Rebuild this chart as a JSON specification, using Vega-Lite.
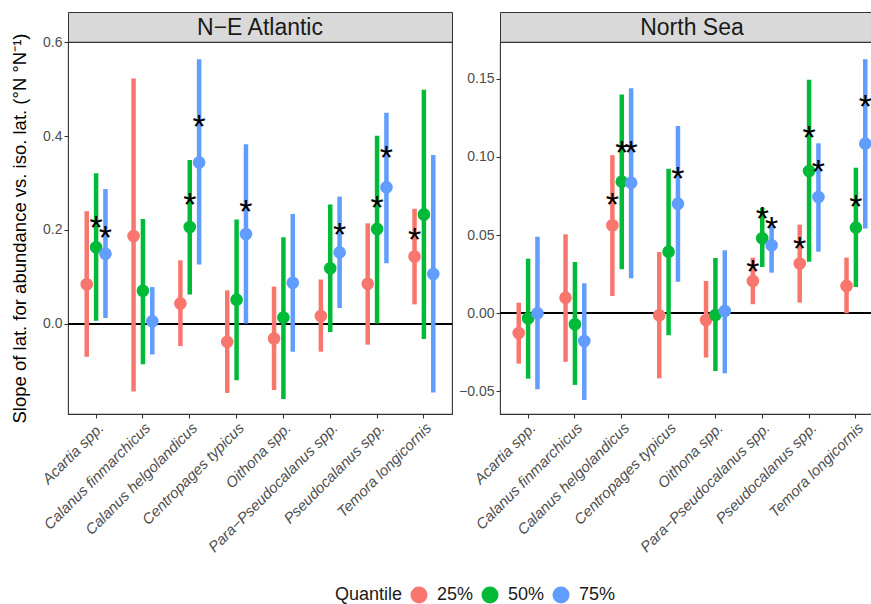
{
  "$schema": "https://vega.github.io/schema/vega-lite/v6.json",
  "padding": {"left": 9, "top": 11, "right": 0, "bottom": 70},
  "autosize": {"type": "pad"},
  "background": "white",
  "datasets": {
    "strips": [{"region": "N−E Atlantic"}, {"region": "North Sea"}],
    "pts": [
      {"region": "N−E Atlantic", "species": "Acartia spp.", "q": "25%", "est": 0.084, "lo": -0.071, "hi": 0.240, "star_y": null},
      {"region": "N−E Atlantic", "species": "Acartia spp.", "q": "50%", "est": 0.163, "lo": 0.006, "hi": 0.321, "star_y": 0.214},
      {"region": "N−E Atlantic", "species": "Acartia spp.", "q": "75%", "est": 0.149, "lo": 0.012, "hi": 0.287, "star_y": 0.193},
      {"region": "N−E Atlantic", "species": "Calanus finmarchicus", "q": "25%", "est": 0.187, "lo": -0.145, "hi": 0.523, "star_y": null},
      {"region": "N−E Atlantic", "species": "Calanus finmarchicus", "q": "50%", "est": 0.070, "lo": -0.087, "hi": 0.223, "star_y": null},
      {"region": "N−E Atlantic", "species": "Calanus finmarchicus", "q": "75%", "est": 0.005, "lo": -0.066, "hi": 0.078, "star_y": null},
      {"region": "N−E Atlantic", "species": "Calanus helgolandicus", "q": "25%", "est": 0.043, "lo": -0.048, "hi": 0.135, "star_y": null},
      {"region": "N−E Atlantic", "species": "Calanus helgolandicus", "q": "50%", "est": 0.206, "lo": 0.062, "hi": 0.349, "star_y": 0.262},
      {"region": "N−E Atlantic", "species": "Calanus helgolandicus", "q": "75%", "est": 0.344, "lo": 0.126, "hi": 0.564, "star_y": 0.429},
      {"region": "N−E Atlantic", "species": "Centropages typicus", "q": "25%", "est": -0.039, "lo": -0.148, "hi": 0.071, "star_y": null},
      {"region": "N−E Atlantic", "species": "Centropages typicus", "q": "50%", "est": 0.051, "lo": -0.121, "hi": 0.222, "star_y": null},
      {"region": "N−E Atlantic", "species": "Centropages typicus", "q": "75%", "est": 0.191, "lo": 0.0, "hi": 0.383, "star_y": 0.248},
      {"region": "N−E Atlantic", "species": "Oithona spp.", "q": "25%", "est": -0.032, "lo": -0.142, "hi": 0.079, "star_y": null},
      {"region": "N−E Atlantic", "species": "Oithona spp.", "q": "50%", "est": 0.013, "lo": -0.161, "hi": 0.184, "star_y": null},
      {"region": "N−E Atlantic", "species": "Oithona spp.", "q": "75%", "est": 0.087, "lo": -0.060, "hi": 0.234, "star_y": null},
      {"region": "N−E Atlantic", "species": "Para−Pseudocalanus spp.", "q": "25%", "est": 0.016, "lo": -0.060, "hi": 0.094, "star_y": null},
      {"region": "N−E Atlantic", "species": "Para−Pseudocalanus spp.", "q": "50%", "est": 0.118, "lo": -0.018, "hi": 0.254, "star_y": null},
      {"region": "N−E Atlantic", "species": "Para−Pseudocalanus spp.", "q": "75%", "est": 0.152, "lo": 0.033, "hi": 0.271, "star_y": 0.199},
      {"region": "N−E Atlantic", "species": "Pseudocalanus spp.", "q": "25%", "est": 0.085, "lo": -0.045, "hi": 0.214, "star_y": null},
      {"region": "N−E Atlantic", "species": "Pseudocalanus spp.", "q": "50%", "est": 0.202, "lo": 0.0, "hi": 0.401, "star_y": 0.257},
      {"region": "N−E Atlantic", "species": "Pseudocalanus spp.", "q": "75%", "est": 0.291, "lo": 0.129, "hi": 0.450, "star_y": 0.364},
      {"region": "N−E Atlantic", "species": "Temora longicornis", "q": "25%", "est": 0.143, "lo": 0.041, "hi": 0.245, "star_y": 0.188},
      {"region": "N−E Atlantic", "species": "Temora longicornis", "q": "50%", "est": 0.233, "lo": -0.033, "hi": 0.499, "star_y": null},
      {"region": "N−E Atlantic", "species": "Temora longicornis", "q": "75%", "est": 0.106, "lo": -0.147, "hi": 0.360, "star_y": null},
      {"region": "North Sea", "species": "Acartia spp.", "q": "25%", "est": -0.0126, "lo": -0.0322, "hi": 0.0068, "star_y": null},
      {"region": "North Sea", "species": "Acartia spp.", "q": "50%", "est": -0.0032, "lo": -0.0418, "hi": 0.0349, "star_y": null},
      {"region": "North Sea", "species": "Acartia spp.", "q": "75%", "est": 0.0, "lo": -0.0486, "hi": 0.049, "star_y": null},
      {"region": "North Sea", "species": "Calanus finmarchicus", "q": "25%", "est": 0.010, "lo": -0.031, "hi": 0.0505, "star_y": null},
      {"region": "North Sea", "species": "Calanus finmarchicus", "q": "50%", "est": -0.007, "lo": -0.0458, "hi": 0.0328, "star_y": null},
      {"region": "North Sea", "species": "Calanus finmarchicus", "q": "75%", "est": -0.0177, "lo": -0.0554, "hi": 0.0192, "star_y": null},
      {"region": "North Sea", "species": "Calanus helgolandicus", "q": "25%", "est": 0.0563, "lo": 0.011, "hi": 0.101, "star_y": 0.0722},
      {"region": "North Sea", "species": "Calanus helgolandicus", "q": "50%", "est": 0.0842, "lo": 0.0281, "hi": 0.140, "star_y": 0.1055},
      {"region": "North Sea", "species": "Calanus helgolandicus", "q": "75%", "est": 0.0835, "lo": 0.0224, "hi": 0.144, "star_y": 0.1055},
      {"region": "North Sea", "species": "Centropages typicus", "q": "25%", "est": -0.0013, "lo": -0.0416, "hi": 0.0392, "star_y": null},
      {"region": "North Sea", "species": "Centropages typicus", "q": "50%", "est": 0.0394, "lo": -0.0141, "hi": 0.0925, "star_y": null},
      {"region": "North Sea", "species": "Centropages typicus", "q": "75%", "est": 0.0701, "lo": 0.0202, "hi": 0.1198, "star_y": 0.0889},
      {"region": "North Sea", "species": "Oithona spp.", "q": "25%", "est": -0.0043, "lo": -0.0283, "hi": 0.0207, "star_y": null},
      {"region": "North Sea", "species": "Oithona spp.", "q": "50%", "est": -0.0011, "lo": -0.0369, "hi": 0.0354, "star_y": null},
      {"region": "North Sea", "species": "Oithona spp.", "q": "75%", "est": 0.0015, "lo": -0.0384, "hi": 0.0403, "star_y": null},
      {"region": "North Sea", "species": "Para−Pseudocalanus spp.", "q": "25%", "est": 0.0207, "lo": 0.0058, "hi": 0.0356, "star_y": 0.0296},
      {"region": "North Sea", "species": "Para−Pseudocalanus spp.", "q": "50%", "est": 0.048, "lo": 0.0296, "hi": 0.0675, "star_y": 0.0629},
      {"region": "North Sea", "species": "Para−Pseudocalanus spp.", "q": "75%", "est": 0.0435, "lo": 0.026, "hi": 0.058, "star_y": 0.0569},
      {"region": "North Sea", "species": "Pseudocalanus spp.", "q": "25%", "est": 0.0318, "lo": 0.0068, "hi": 0.0567, "star_y": 0.0437},
      {"region": "North Sea", "species": "Pseudocalanus spp.", "q": "50%", "est": 0.091, "lo": 0.033, "hi": 0.1494, "star_y": 0.1149},
      {"region": "North Sea", "species": "Pseudocalanus spp.", "q": "75%", "est": 0.0744, "lo": 0.0394, "hi": 0.1087, "star_y": 0.0935},
      {"region": "North Sea", "species": "Temora longicornis", "q": "25%", "est": 0.0175, "lo": 0.0, "hi": 0.0356, "star_y": null},
      {"region": "North Sea", "species": "Temora longicornis", "q": "50%", "est": 0.0548, "lo": 0.0168, "hi": 0.0931, "star_y": 0.0707},
      {"region": "North Sea", "species": "Temora longicornis", "q": "75%", "est": 0.1085, "lo": 0.0543, "hi": 0.1624, "star_y": 0.135}
    ]
  },
  "hconcat": [
    {
      "vconcat": [
        {
          "width": 384, "height": 30,
          "data": {"name": "strips"},
          "transform": [{"filter": "datum.region === 'N−E Atlantic'"}],
          "view": {"fill": "#D9D9D9", "stroke": "#333333"},
          "mark": {"type": "text", "fontSize": 23, "color": "#1a1a1a", "baseline": "middle", "dy": 1},
          "encoding": {"text": {"field": "region", "type": "nominal"}}
        },
        {
          "width": 384, "height": 372,
          "data": {"name": "pts"},
          "transform": [{"filter": "datum.region === 'N−E Atlantic'"}],
          "layer": [
            {
              "mark": {"type": "rule", "color": "black", "strokeWidth": 1.1},
              "encoding": {"y": {"datum": 0, "type": "quantitative", "scale": {"domain": [-0.193, 0.601], "nice": false, "zero": false}}}
            },
            {
              "mark": {"type": "rule", "strokeWidth": 4.5},
              "encoding": {
                "x": {"field": "species", "type": "nominal", "sort": null, "scale": {"paddingInner": 0, "paddingOuter": 0.1},
                      "axis": {"title": null, "labelAngle": -45, "labelAlign": "right", "labelBaseline": "top", "labelFontStyle": "italic", "labelFontSize": 15, "labelPadding": 2}},
                "xOffset": {"field": "q", "type": "nominal", "scale": {"paddingInner": 0, "paddingOuter": 1.016}},
                "y": {"field": "lo", "type": "quantitative", "scale": {"domain": [-0.193, 0.601], "nice": false, "zero": false},
                      "axis": {"title": "Slope of lat. for abundance vs. iso. lat. (°N °N⁻¹)", "values": [0, 0.2, 0.4, 0.6], "format": ".1f", "titlePadding": 13}},
                "y2": {"field": "hi"},
                "stroke": {"field": "q", "type": "nominal", "scale": {"domain": ["25%", "50%", "75%"], "range": ["#F8766D", "#00BA38", "#619CFF"]}}
              }
            },
            {
              "mark": {"type": "point", "filled": true, "shape": "circle", "size": 160, "opacity": 1, "strokeWidth": 0},
              "encoding": {
                "x": {"field": "species", "type": "nominal", "sort": null},
                "xOffset": {"field": "q", "type": "nominal"},
                "y": {"field": "est", "type": "quantitative"},
                "fill": {"field": "q", "type": "nominal", "scale": {"domain": ["25%", "50%", "75%"], "range": ["#F8766D", "#00BA38", "#619CFF"]},
                          "legend": {"title": "Quantile", "orient": "none", "legendX": 267, "legendY": 574, "direction": "horizontal", "titleOrient": "left", "symbolType": "circle", "symbolSize": 290, "symbolStrokeWidth": 0, "labelFontSize": 18, "titleFontSize": 18, "titleFontWeight": "normal", "labelColor": "#1a1a1a", "titleColor": "#1a1a1a", "columnPadding": 7, "labelOffset": 9, "titlePadding": 7, "titleBaseline": "middle"}}
              }
            },
            {
              "transform": [{"filter": "datum.star_y !== null"}],
              "mark": {"type": "text", "text": "*", "fontSize": 34, "color": "black", "baseline": "alphabetic", "dy": 15.5},
              "encoding": {
                "x": {"field": "species", "type": "nominal", "sort": null},
                "xOffset": {"field": "q", "type": "nominal"},
                "y": {"field": "star_y", "type": "quantitative"}
              }
            }
          ]
        }
      ],
      "spacing": 0,
      "bounds": "flush"
    },
    {
      "vconcat": [
        {
          "width": 384, "height": 30,
          "data": {"name": "strips"},
          "transform": [{"filter": "datum.region === 'North Sea'"}],
          "view": {"fill": "#D9D9D9", "stroke": "#333333"},
          "mark": {"type": "text", "fontSize": 23, "color": "#1a1a1a", "baseline": "middle", "dy": 1},
          "encoding": {"text": {"field": "region", "type": "nominal"}}
        },
        {
          "width": 384, "height": 372,
          "data": {"name": "pts"},
          "transform": [{"filter": "datum.region === 'North Sea'"}],
          "layer": [
            {
              "mark": {"type": "rule", "color": "black", "strokeWidth": 1.1},
              "encoding": {"y": {"datum": 0, "type": "quantitative", "scale": {"domain": [-0.0644, 0.1735], "nice": false, "zero": false}}}
            },
            {
              "mark": {"type": "rule", "strokeWidth": 4.5},
              "encoding": {
                "x": {"field": "species", "type": "nominal", "sort": null, "scale": {"paddingInner": 0, "paddingOuter": 0.1},
                      "axis": {"title": null, "labelAngle": -45, "labelAlign": "right", "labelBaseline": "top", "labelFontStyle": "italic", "labelFontSize": 15, "labelPadding": 2}},
                "xOffset": {"field": "q", "type": "nominal", "scale": {"paddingInner": 0, "paddingOuter": 1.016}},
                "y": {"field": "lo", "type": "quantitative", "scale": {"domain": [-0.0644, 0.1735], "nice": false, "zero": false},
                      "axis": {"title": null, "values": [-0.05, 0, 0.05, 0.1, 0.15], "format": ".2f"}},
                "y2": {"field": "hi"},
                "stroke": {"field": "q", "type": "nominal"}
              }
            },
            {
              "mark": {"type": "point", "filled": true, "shape": "circle", "size": 160, "opacity": 1, "strokeWidth": 0},
              "encoding": {
                "x": {"field": "species", "type": "nominal", "sort": null},
                "xOffset": {"field": "q", "type": "nominal"},
                "y": {"field": "est", "type": "quantitative"},
                "fill": {"field": "q", "type": "nominal"}
              }
            },
            {
              "transform": [{"filter": "datum.star_y !== null"}],
              "mark": {"type": "text", "text": "*", "fontSize": 34, "color": "black", "baseline": "alphabetic", "dy": 15.5},
              "encoding": {
                "x": {"field": "species", "type": "nominal", "sort": null},
                "xOffset": {"field": "q", "type": "nominal"},
                "y": {"field": "star_y", "type": "quantitative"}
              }
            }
          ]
        }
      ],
      "spacing": 0,
      "bounds": "flush"
    }
  ],
  "spacing": 4,
  "resolve": {"scale": {"y": "independent", "x": "independent", "fill": "shared", "stroke": "shared"}},
  "config": {
    "font": "Liberation Sans",
    "view": {"stroke": "#333333", "strokeWidth": 1.1},
    "axis": {
      "grid": false, "domain": false,
      "labelColor": "#4D4D4D", "labelFontSize": 14, "labelFont": "Liberation Sans",
      "tickColor": "#333333", "tickSize": 4, "tickWidth": 1.1,
      "titleColor": "#000000", "titleFontSize": 18.5, "titleFontWeight": "normal", "titleFont": "Liberation Sans"
    },
    "legend": {"labelFont": "Liberation Sans", "titleFont": "Liberation Sans"}
  }
}
